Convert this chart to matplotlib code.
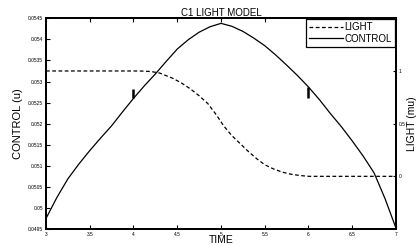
import matplotlib
matplotlib.use("Agg")
import matplotlib.pyplot as plt

plt.rcParams['font.family'] = ['Liberation Sans', 'DejaVu Sans']

# ---- data ----
t_control = [3.0, 3.125, 3.25, 3.375, 3.5, 3.625, 3.75, 3.875, 4.0, 4.125,
             4.25, 4.375, 4.5, 4.625, 4.75, 4.875, 5.0, 5.125, 5.25, 5.375,
             5.5, 5.625, 5.75, 5.875, 6.0, 6.125, 6.25, 6.375, 6.5, 6.625,
             6.75, 6.875, 7.0]
control = [0.04975, 0.05025, 0.05069, 0.05104, 0.05136, 0.05166, 0.05195,
           0.05228, 0.05260, 0.05290, 0.05318, 0.05348, 0.05377, 0.05399,
           0.05417, 0.05430, 0.05438, 0.05431, 0.05419, 0.05403, 0.05385,
           0.05363, 0.05339, 0.05314, 0.05287, 0.05257, 0.05224, 0.05193,
           0.05159, 0.05123, 0.05083, 0.05022, 0.04952]

t_light = [3.0, 3.5, 4.0, 4.1, 4.2, 4.3, 4.45, 4.55, 4.65, 4.75, 4.85,
           4.95, 5.03, 5.12, 5.22, 5.32, 5.41, 5.5, 5.6, 5.7, 5.8, 5.9,
           6.0, 6.5, 7.0]
light = [1.0, 1.0, 1.0, 0.999, 0.995, 0.98, 0.93, 0.885, 0.83, 0.765, 0.69,
         0.58, 0.48, 0.39, 0.31, 0.23, 0.166, 0.11, 0.07, 0.04, 0.02, 0.008,
         0.0, 0.0, 0.0]

# small vertical marks on the control curve
mark_t = [4.0, 6.0]
mark_lo = [0.05260, 0.05260]
mark_hi = [0.05282, 0.05287]

xticks = [3, 3.5, 4, 4.5, 5, 5.5, 6, 6.5, 7]
yticks = [0.0495 + 0.0005 * i for i in range(11)]
ytick_labels = ["0.0495", "0.05", "0.0505", "0.051", "0.0515", "0.052",
                "0.0525", "0.053", "0.0535", "0.054", "0.0545"]
rticks = [0, 0.5, 1]

# ============================================================
fig = plt.figure(figsize=(4.17, 2.45), dpi=100)
ax = fig.add_axes([0.1103, 0.0653, 0.8393, 0.8600])

l2, = ax.plot([], [], color="black", linestyle=(0, (3, 2)), linewidth=0.9, label="LIGHT")
l1, = ax.plot(t_control, control, color="black", linewidth=0.9, label="CONTROL")
ax.vlines(mark_t, mark_lo, mark_hi, color="black", linewidth=1.8)

ax.set_xlim(3, 7)
ax.set_ylim(0.0495, 0.0545)
ax.set_xticks(xticks)
ax.set_xticklabels([f"{v:g}" for v in xticks])
ax.set_yticks(yticks)
ax.set_yticklabels(ytick_labels)
ax.tick_params(direction="in", length=3, width=0.8, labelsize=3.5, pad=2,
               top=True, right=True)
for s in ax.spines.values():
    s.set_linewidth(1.3)

ax.set_title("C1 LIGHT MODEL", fontsize=7, pad=2)
ax.set_xlabel("TIME", fontsize=7.5, labelpad=-1)
ax.set_ylabel("CONTROL (u)", fontsize=8, labelpad=4)

ax2 = ax.twinx()
ax2.plot(t_light, light, color="black", linestyle=(0, (3, 2)), linewidth=0.9)
ax2.set_ylim(-0.5, 1.5)
ax2.set_yticks(rticks)
ax2.set_yticklabels([f"{v:g}" for v in rticks])
ax2.tick_params(direction="in", length=2, width=0.8, labelsize=3.5, pad=2)
ax2.set_ylabel("LIGHT (mu)", fontsize=7.5, labelpad=1)
for s in ax2.spines.values():
    s.set_linewidth(1.3)

leg = ax2.legend([l2, l1], ["LIGHT", "CONTROL"], loc="upper right",
                 fontsize=7, fancybox=False, edgecolor="black",
                 framealpha=1, borderaxespad=0.1, handlelength=3.5,
                 handletextpad=0.2, borderpad=0.3, labelspacing=0.15)
leg.get_frame().set_linewidth(0.9)

fig.savefig("out.png", dpi=100)
